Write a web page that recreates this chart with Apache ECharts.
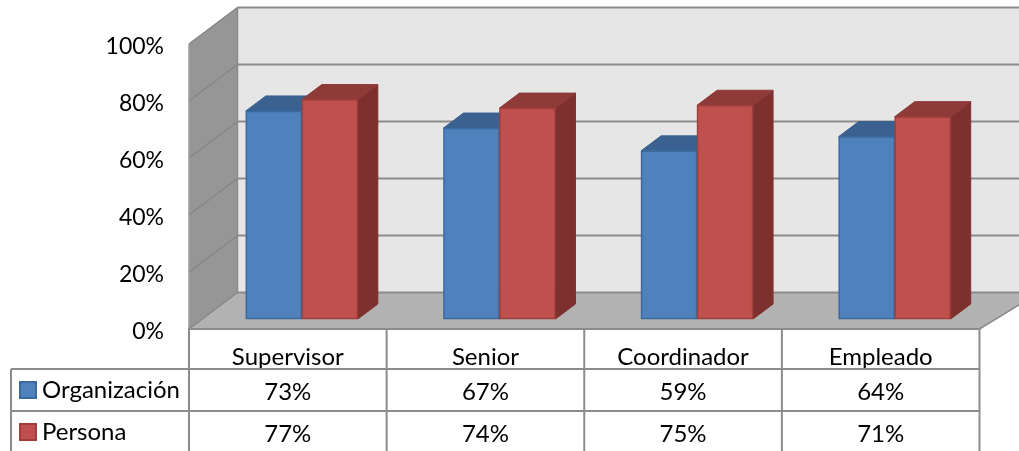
<!DOCTYPE html>
<html><head><meta charset="utf-8">
<style>html,body{margin:0;padding:0;background:#fff}#c{width:1019px;height:451px}</style>
<script src="https://cdn.jsdelivr.net/npm/echarts@6/dist/echarts.min.js"></script>
</head><body><div id="c"></div>
<script>
const categories = ['Supervisor', 'Senior', 'Coordinador', 'Empleado'];
const organizacion = [73, 67, 59, 64];
const persona = [77, 74, 75, 71];
const yTicks = [0, 20, 40, 60, 80, 100];
const FONT = 'Lato';
const FS = 24;
const YFS = 23;
const chart = echarts.init(document.getElementById('c'));
const WX = 48.5, WY = 36.5;     // wall depth
const OX = 14, OY = 10;         // bar plane offset from front plane
const DX = 20, DY = 15;         // bar depth
const BW = 56;
const LINE = '#8c8c8c';
const ROW1 = 369, ROW2 = 411, ROWB = 451, TL = 11;

function poly(points, fill, stroke, lw) {
  return { type: 'polygon', shape: { points }, style: { fill, stroke: stroke || fill, lineWidth: lw === undefined ? 1 : lw } };
}
function seg(x1, y1, x2, y2, stroke, w) {
  return { type: 'line', shape: { x1, y1, x2, y2 }, style: { stroke, lineWidth: w } };
}
function wallsItem(params, api) {
  const cs = params.coordSys;
  const L = cs.x, R = cs.x + cs.width, T = cs.y, B = cs.y + cs.height;
  const W = 1019;
  const ch = [];
  ch.push(poly([[L + WX, T - WY], [W, T - WY], [W, B - WY], [L + WX, B - WY]], '#e6e6e6'));
  ch.push(poly([[L, T], [L + WX, T - WY], [L + WX, B - WY], [L, B]], '#969696'));
  ch.push(poly([[L, B], [L + WX, B - WY], [W + 20, B - WY], [R, B]], '#b2b2b2'));
  yTicks.forEach(t => {
    const y = api.coord([0, t])[1];
    ch.push(seg(L + WX, y - WY, W, y - WY, LINE, 2));
    ch.push(seg(L, y, L + WX, y - WY, '#868686', 1.5));
  });
  ch.push(seg(L + WX, T - WY, L + WX, B - WY, LINE, 1.5));
  ch.push(seg(L, T, L, B, '#a0a0a0', 1));
  ch.push(seg(R, B, W + 20, B - WY, LINE, 1.5));
  // data table rules
  ch.push(seg(L - 1, B, R, B, LINE, 2));
  ch.push(seg(TL, ROW1, R, ROW1, LINE, 2));
  ch.push(seg(TL, ROW2, R, ROW2, LINE, 2));
  ch.push(seg(TL, ROW1, TL, ROWB, LINE, 2));
  for (let i = 0; i <= categories.length; i++) {
    const x = L + i * cs.width / categories.length;
    ch.push(seg(x, B, x, ROWB, LINE, 2));
  }
  return { type: 'group', children: ch };
}
function barItem(offsetIdx, front, top, side, border, rowY) {
  return function (params, api) {
    const i = api.value(0), v = api.value(1);
    const c = api.coord([i, 0]);
    const xl = c[0] + OX + (offsetIdx ? 0 : -BW), xr = xl + BW;
    const yb = c[1] - OY, yt = api.coord([i, v])[1] - OY;
    return { type: 'group', children: [
      poly([[xr, yt], [xr + DX, yt - DY], [xr + DX, yb - DY], [xr, yb]], side, side, 1),
      poly([[xl, yt], [xl + DX, yt - DY], [xr + DX, yt - DY], [xr, yt]], top, top, 1),
      { type: 'rect', shape: { x: xl + 0.5, y: yt + 0.5, width: BW - 1, height: yb - yt - 1 }, style: { fill: front, stroke: border, lineWidth: 1.5 } },
      { type: 'text', style: { text: v + '%', x: c[0], y: rowY, align: 'center', verticalAlign: 'middle', fill: '#000', font: FS + 'px ' + FONT } }
    ] };
  };
}
const rows = (arr) => arr.map((v, i) => [i, v]);
chart.setOption({
  animation: false,
  backgroundColor: '#fff',
  grid: { left: 189, right: 39.5, top: 44, bottom: 122, containLabel: false },
  legend: {
    orient: 'vertical', left: 19, top: 378, itemWidth: 16, itemHeight: 16, itemGap: 18, selectedMode: false,
    icon: 'rect', align: 'left',
    textStyle: { color: '#000', fontFamily: FONT, fontSize: FS, padding: [0, 0, 0, 1] },
    padding: 0,
    data: ['Organización', 'Persona']
  },
  xAxis: {
    type: 'category', data: categories,
    axisLine: { show: false }, axisTick: { show: false }, splitLine: { show: false },
    axisLabel: { color: '#000', fontFamily: FONT, fontSize: FS, margin: 16 }
  },
  yAxis: {
    type: 'value', min: 0, max: 100, interval: 20,
    axisLine: { show: false }, axisTick: { show: false }, splitLine: { show: false },
    axisLabel: { color: '#000', fontFamily: FONT, fontSize: YFS, margin: 25, formatter: '{value}%', verticalAlign: 'top', lineHeight: 6 }
  },
  series: [
    { type: 'custom', name: 'walls', coordinateSystem: 'cartesian2d', silent: true, z: 1, data: [[0, 0]], renderItem: wallsItem, encode: { x: 0, y: 1 } },
    { type: 'custom', name: 'Organización', coordinateSystem: 'cartesian2d', z: 2, data: rows(organizacion), encode: { x: 0, y: 1 },
      itemStyle: { color: '#4f81bd', borderColor: '#3a6a9f', borderWidth: 1 },
      renderItem: barItem(0, '#4f81bd', '#3a6190', '#2f5178', '#3b6a9e', 392) },
    { type: 'custom', name: 'Persona', coordinateSystem: 'cartesian2d', z: 3, data: rows(persona), encode: { x: 0, y: 1 },
      itemStyle: { color: '#c0504d', borderColor: '#a03c3a', borderWidth: 1 },
      renderItem: barItem(1, '#c0504d', '#8e3a38', '#7e302e', '#a23f3c', 434) }
  ]
});
</script></body></html>
